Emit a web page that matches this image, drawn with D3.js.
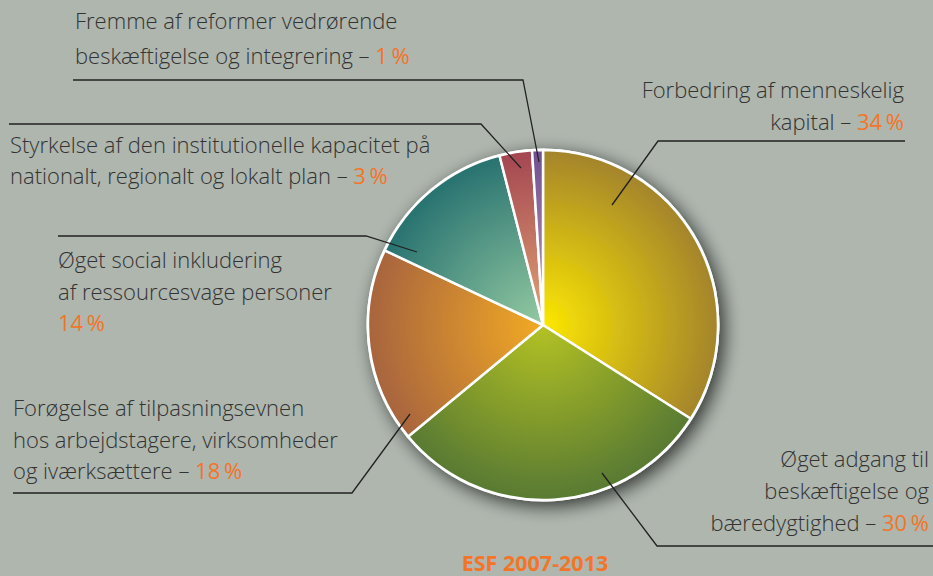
<!DOCTYPE html>
<html><head><meta charset="utf-8">
<script src="https://cdn.jsdelivr.net/npm/d3@7"></script>
<style>
html,body{margin:0;padding:0;background:#aeb6ae;}
svg{display:block;}
</style></head>
<body>
<svg id="chart" width="933" height="576"></svg>
<script>
// ---- data ----
const categories = [
  "Forbedring af menneskelig kapital",
  "Øget adgang til beskæftigelse og bæredygtighed",
  "Forøgelse af tilpasningsevnen hos arbejdstagere, virksomheder og iværksættere",
  "Øget social inkludering af ressourcesvage personer",
  "Styrkelse af den institutionelle kapacitet på nationalt, regionalt og lokalt plan",
  "Fremme af reformer vedrørende beskæftigelse og integrering"
];
const values = [34, 30, 18, 14, 3, 1];
const labelLines = [
  ["Forbedring af menneskelig", "kapital – "],
  ["Øget adgang til", "beskæftigelse og", "bæredygtighed – "],
  ["Forøgelse af tilpasningsevnen", "hos arbejdstagere, virksomheder", "og iværksættere – "],
  ["Øget social inkludering", "af ressourcesvage personer", ""],
  ["Styrkelse af den institutionelle kapacitet på", "nationalt, regionalt og lokalt plan – "],
  ["Fremme af reformer vedrørende", "beskæftigelse og integrering – "]
];
const title = "ESF 2007-2013";

// ---- styles / layout ----
const innerColors = ["#fce800", "#b4c224", "#f2aa24", "#94caa2", "#e2a474", "#c49ab8"];
const outerColors = ["#a4842c", "#587a32", "#a8643e", "#287270", "#a44652", "#6e5090"];
const cx = 543, cy = 325, R = 175;
const layout = [
  {x: 904, y: 98,  lh: 31.5, align: "end",   anchor: [69, -120],  elbow: [658, 141], end: [905, 141]},
  {x: 929, y: 467, lh: 32,   align: "end",   anchor: [59, 148],   elbow: [657, 546], end: [933, 546]},
  {x: 13,  y: 416, lh: 31.5, align: "start", anchor: [-133, 89],  elbow: [352, 493], end: [13, 493]},
  {x: 58,  y: 268, lh: 31.5, align: "start", anchor: [-126, -73], elbow: [366, 236], end: [58, 236]},
  {x: 10,  y: 153, lh: 31,   align: "start", anchor: [-22, -157], elbow: [481, 124], end: [9, 124]},
  {x: 75,  y: 29,  lh: 34.5, align: "start", anchor: [-4, -163],  elbow: [523, 80],  end: [73, 80]}
];

const svg = d3.select("#chart");
const defs = svg.append("defs");

const f = defs.append("filter").attr("id", "shadow")
  .attr("x", "-30%").attr("y", "-30%").attr("width", "160%").attr("height", "160%");
f.append("feGaussianBlur").attr("in", "SourceAlpha").attr("stdDeviation", 9).attr("result", "b");
f.append("feOffset").attr("in", "b").attr("dx", 5).attr("dy", 5).attr("result", "o");
f.append("feComponentTransfer").attr("in", "o").attr("result", "s")
  .append("feFuncA").attr("type", "linear").attr("slope", 0.7);
const m = f.append("feMerge");
m.append("feMergeNode").attr("in", "s");
m.append("feMergeNode").attr("in", "SourceGraphic");

values.forEach((v, i) => {
  const g = defs.append("radialGradient").attr("id", "g" + i)
    .attr("gradientUnits", "userSpaceOnUse")
    .attr("cx", 0).attr("cy", 0).attr("r", R).attr("fx", 0).attr("fy", 0);
  g.append("stop").attr("offset", "0%").attr("stop-color", innerColors[i]);
  g.append("stop").attr("offset", "100%").attr("stop-color", outerColors[i]);
});

const pie = d3.pie().sort(null).value(d => d);
const arc = d3.arc().innerRadius(0).outerRadius(R);
const arcs = pie(values);

const pg = svg.append("g").attr("filter", "url(#shadow)").attr("transform", `translate(${cx},${cy})`);
pg.append("circle").attr("r", R + 1.5).attr("fill", "#fff");
pg.selectAll("path").data(arcs).join("path")
  .attr("d", arc)
  .attr("fill", (d, i) => `url(#g${i})`)
  .attr("stroke", "#fff").attr("stroke-width", 2.5).attr("stroke-linejoin", "round");

// leader lines
const lineGen = d3.line();
svg.append("g").selectAll("path").data(layout).join("path")
  .attr("d", l => lineGen([[cx + l.anchor[0], cy + l.anchor[1]], l.elbow, l.end]))
  .attr("fill", "none").attr("stroke", "#222").attr("stroke-width", 1.3);

// labels
const fontFam = "'Open Sans', 'Noto Sans', sans-serif";
const lg = svg.append("g").attr("font-family", fontFam).attr("font-size", 22).attr("font-weight", 300).attr("fill", "#333");
layout.forEach((l, i) => {
  const lines = labelLines[i];
  const t = lg.append("text").attr("text-anchor", l.align);
  lines.forEach((s, j) => {
    const ts = t.append("tspan").attr("x", l.x).attr("y", l.y + j * l.lh);
    ts.append("tspan").text(s);
    if (j === lines.length - 1) {
      ts.append("tspan").attr("fill", "#f27528").attr("font-weight", 400).text(values[i] + "\u2009%");
    }
  });
});

svg.append("text").attr("x", 535).attr("y", 571).attr("text-anchor", "middle")
  .attr("font-family", fontFam).attr("font-weight", 700).attr("font-size", 21.5)
  .attr("fill", "#f27528").text(title);
</script>
</body></html>
